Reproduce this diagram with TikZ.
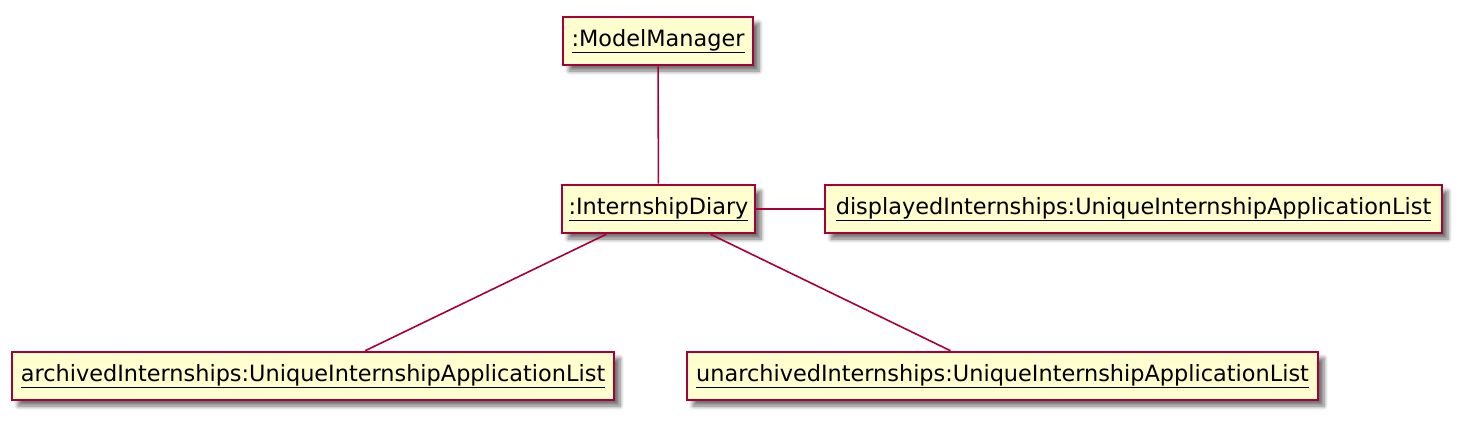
\documentclass[tikz,border=0pt]{standalone}
\usepackage{fontspec}
\setmainfont{DejaVu Sans}
\usetikzlibrary{shadows.blur}
\definecolor{umlfill}{HTML}{FEFECE}
\definecolor{umlline}{HTML}{A80036}
\tikzset{
  obj/.style={draw=umlline, fill=umlfill, line width=2.6pt, minimum height=48pt, inner sep=0pt,
    font=\fontsize{22.4}{26}\selectfont,
    blur shadow={shadow xshift=6pt, shadow yshift=-6pt, shadow blur steps=6, shadow opacity=55, shadow blur radius=4pt}},
  link/.style={draw=umlline, line width=1.6pt}
}
\newcommand{\objtext}[1]{\underline{#1}}
\begin{document}
\begin{tikzpicture}[x=1pt,y=-1pt]
\useasboundingbox (0,0) rectangle (1463,420);
\node[obj, minimum width=190pt] (mm) at (658,41) {\objtext{:ModelManager}};
\node[obj, minimum width=193pt] (diary) at (658.5,209) {\objtext{:InternshipDiary}};
\node[obj, minimum width=617pt] (disp) at (1133.5,209) {\objtext{displayedInternships:UniqueInternshipApplicationList}};
\node[obj, minimum width=602pt] (arch) at (313,376) {\objtext{archivedInternships:UniqueInternshipApplicationList}};
\node[obj, minimum width=631pt] (unarch) at (1002.5,376) {\objtext{unarchivedInternships:UniqueInternshipApplicationList}};
\draw[link] (mm) -- (diary);
\draw[link] (diary) -- (disp);
\draw[link] (diary) -- (arch);
\draw[link] (diary) -- (unarch);
\end{tikzpicture}
\end{document}
